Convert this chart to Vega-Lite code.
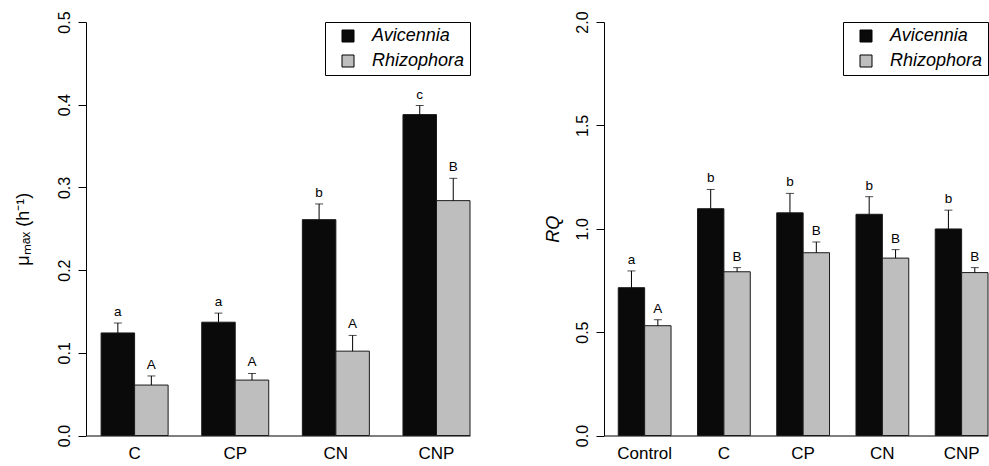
{
  "$schema": "https://vega.github.io/schema/vega-lite/v6.json",
  "background": "white",
  "padding": {"left": 13, "top": 10, "right": 0, "bottom": 0},
  "config": {
    "font": "Liberation Sans",
    "view": {"stroke": null},
    "axis": {"grid": false, "domainColor": "black", "tickColor": "black", "labelColor": "black", "titleColor": "black", "titleFontWeight": "normal", "domainWidth": 1, "tickWidth": 1},
    "legend": {"orient": "top-right", "offset": 0, "strokeColor": "black", "fillColor": "white", "padding": 5, "symbolType": "square", "symbolSize": 144, "symbolStrokeColor": "black", "symbolStrokeWidth": 1, "symbolOffset": 9, "labelFont": "Liberation Sans", "labelFontStyle": "italic", "labelFontSize": 18, "labelColor": "black", "labelOffset": 15, "rowPadding": 7}
  },
  "datasets": {
    "mu": [
      {"treatment": "C", "species": "Avicennia", "mean": 0.124, "upper": 0.136, "letter": "a"},
      {"treatment": "C", "species": "Rhizophora", "mean": 0.061, "upper": 0.072, "letter": "A"},
      {"treatment": "CP", "species": "Avicennia", "mean": 0.137, "upper": 0.148, "letter": "a"},
      {"treatment": "CP", "species": "Rhizophora", "mean": 0.067, "upper": 0.075, "letter": "A"},
      {"treatment": "CN", "species": "Avicennia", "mean": 0.261, "upper": 0.280, "letter": "b"},
      {"treatment": "CN", "species": "Rhizophora", "mean": 0.102, "upper": 0.121, "letter": "A"},
      {"treatment": "CNP", "species": "Avicennia", "mean": 0.388, "upper": 0.399, "letter": "c"},
      {"treatment": "CNP", "species": "Rhizophora", "mean": 0.284, "upper": 0.311, "letter": "B"}
    ],
    "rq": [
      {"treatment": "Control", "species": "Avicennia", "mean": 0.715, "upper": 0.796, "letter": "a"},
      {"treatment": "Control", "species": "Rhizophora", "mean": 0.531, "upper": 0.560, "letter": "A"},
      {"treatment": "C", "species": "Avicennia", "mean": 1.097, "upper": 1.190, "letter": "b"},
      {"treatment": "C", "species": "Rhizophora", "mean": 0.792, "upper": 0.812, "letter": "B"},
      {"treatment": "CP", "species": "Avicennia", "mean": 1.077, "upper": 1.171, "letter": "b"},
      {"treatment": "CP", "species": "Rhizophora", "mean": 0.884, "upper": 0.936, "letter": "B"},
      {"treatment": "CN", "species": "Avicennia", "mean": 1.070, "upper": 1.155, "letter": "b"},
      {"treatment": "CN", "species": "Rhizophora", "mean": 0.858, "upper": 0.899, "letter": "B"},
      {"treatment": "CNP", "species": "Avicennia", "mean": 0.999, "upper": 1.090, "letter": "b"},
      {"treatment": "CNP", "species": "Rhizophora", "mean": 0.788, "upper": 0.812, "letter": "B"}
    ]
  },
  "resolve": {"scale": {"color": "independent", "x": "independent", "xOffset": "independent", "y": "independent"}, "legend": {"color": "independent"}},
  "spacing": 73,
  "hconcat": [
    {
      "width": 384,
      "height": 413.5,
      "data": {"name": "mu"},
      "encoding": {
        "x": {"field": "treatment", "type": "nominal", "sort": ["C", "CP", "CN", "CNP"], "scale": {"paddingInner": 0.334, "paddingOuter": 0.075, "align": 1}, "axis": {"title": null, "ticks": false, "labelAngle": 0, "labelFontSize": 17, "labelPadding": 10}},
        "xOffset": {"field": "species", "type": "nominal", "sort": ["Avicennia", "Rhizophora"]}
      },
      "layer": [
        {
          "mark": {"type": "bar", "stroke": "#1a1a1a", "strokeWidth": 1},
          "encoding": {
            "y": {"field": "mean", "type": "quantitative", "title": "μₘₐₓ (h⁻¹)", "scale": {"domain": [0, 0.5], "nice": false}, "axis": {"values": [0, 0.1, 0.2, 0.3, 0.4, 0.5], "format": ".1f", "labelAngle": -90, "labelAlign": "center", "labelBaseline": "bottom", "labelFontSize": 16, "labelPadding": 6, "tickSize": 8, "titleFontSize": 18, "titlePadding": 24}},
            "color": {"field": "species", "type": "nominal", "scale": {"domain": ["Avicennia", "Rhizophora"], "range": ["#0a0a0a", "#bebebe"]}, "legend": {"title": null}}
          }
        },
        {
          "mark": {"type": "rule", "color": "black", "strokeWidth": 1},
          "encoding": {"y": {"field": "mean", "type": "quantitative", "title": "μₘₐₓ (h⁻¹)"}, "y2": {"field": "upper"}}
        },
        {
          "mark": {"type": "tick", "color": "black", "thickness": 1, "size": 8, "orient": "horizontal"},
          "encoding": {"y": {"field": "upper", "type": "quantitative", "title": "μₘₐₓ (h⁻¹)"}}
        },
        {
          "mark": {"type": "text", "dy": -7, "baseline": "alphabetic", "fontSize": 13.5, "color": "black"},
          "encoding": {"y": {"field": "upper", "type": "quantitative", "title": "μₘₐₓ (h⁻¹)"}, "text": {"field": "letter"}}
        }
      ]
    },
    {
      "width": 384,
      "height": 413.5,
      "data": {"name": "rq"},
      "encoding": {
        "x": {"field": "treatment", "type": "nominal", "sort": ["Control", "C", "CP", "CN", "CNP"], "scale": {"paddingInner": 0.334, "paddingOuter": 0.09, "align": 1}, "axis": {"title": null, "ticks": false, "labelAngle": 0, "labelFontSize": 17, "labelPadding": 10}},
        "xOffset": {"field": "species", "type": "nominal", "sort": ["Avicennia", "Rhizophora"]}
      },
      "layer": [
        {
          "mark": {"type": "bar", "stroke": "#1a1a1a", "strokeWidth": 1},
          "encoding": {
            "y": {"field": "mean", "type": "quantitative", "title": "RQ", "scale": {"domain": [0, 2], "nice": false}, "axis": {"values": [0, 0.5, 1, 1.5, 2], "format": ".1f", "labelAngle": -90, "labelAlign": "center", "labelBaseline": "bottom", "labelFontSize": 16, "labelPadding": 6, "tickSize": 8, "titleFontSize": 18, "titleFontStyle": "italic", "titlePadding": 12}},
            "color": {"field": "species", "type": "nominal", "scale": {"domain": ["Avicennia", "Rhizophora"], "range": ["#0a0a0a", "#bebebe"]}, "legend": {"title": null}}
          }
        },
        {
          "mark": {"type": "rule", "color": "black", "strokeWidth": 1},
          "encoding": {"y": {"field": "mean", "type": "quantitative", "title": "RQ"}, "y2": {"field": "upper"}}
        },
        {
          "mark": {"type": "tick", "color": "black", "thickness": 1, "size": 8, "orient": "horizontal"},
          "encoding": {"y": {"field": "upper", "type": "quantitative", "title": "RQ"}}
        },
        {
          "mark": {"type": "text", "dy": -7, "baseline": "alphabetic", "fontSize": 13.5, "color": "black"},
          "encoding": {"y": {"field": "upper", "type": "quantitative", "title": "RQ"}, "text": {"field": "letter"}}
        }
      ]
    }
  ]
}
